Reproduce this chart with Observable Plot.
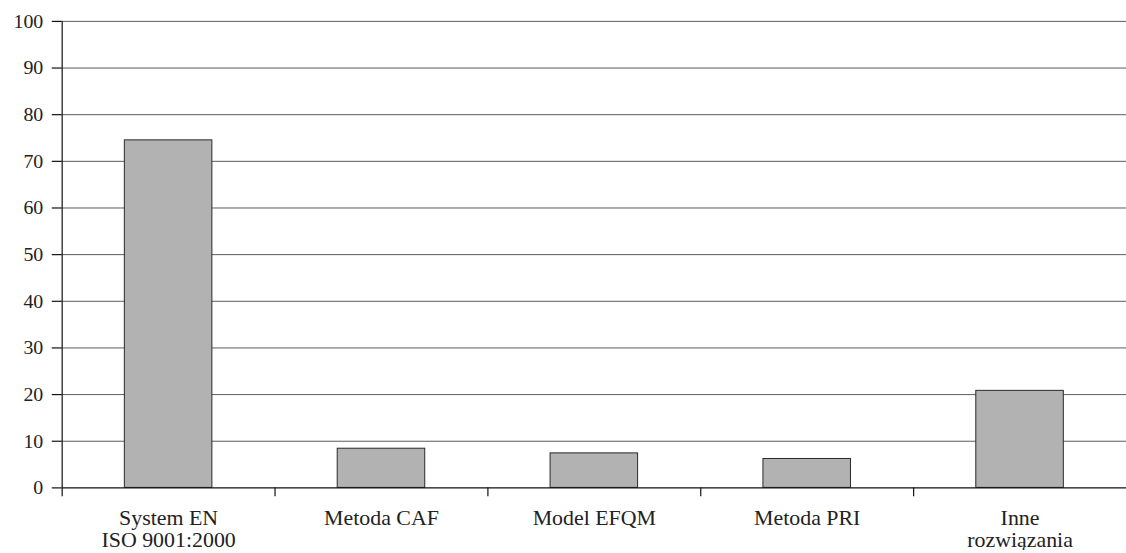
<!DOCTYPE html>
<html>
<head>
<meta charset="utf-8">
<script src="https://cdn.jsdelivr.net/npm/d3@7"></script>
<script src="https://cdn.jsdelivr.net/npm/@observablehq/plot@0.6"></script>
<style>
  html, body { margin: 0; padding: 0; background: #fff; overflow: hidden; }
  #chart { width: 1126px; height: 553px; overflow: hidden; }
  #chart svg, #chart svg text { font-family: "Liberation Serif", "DejaVu Serif", serif !important; }
</style>
</head>
<body>
<div id="chart"></div>
<script>
const categories = ["System EN\nISO 9001:2000", "Metoda CAF", "Model EFQM", "Metoda PRI", "Inne\nrozwiązania"];
const values = [74.5, 8.4, 7.4, 6.2, 20.8];
const yTicks = [0, 10, 20, 30, 40, 50, 60, 70, 80, 90, 100];

const data = categories.map((c, i) => ({category: c, value: values[i]}));

const W = 1132, H = 553;
const mL = 62, mR = 0, mT = 21, mB = 63;
const step = (W - mL - mR) / categories.length;
const frameH = H - mT - mB;

const chart = Plot.plot({
  width: W,
  height: H,
  marginLeft: mL,
  marginRight: mR,
  marginTop: mT,
  marginBottom: mB,
  style: {fontFamily: '"Liberation Serif", serif', fontSize: "20px", color: "#222", background: "#fff"},
  x: {domain: categories, paddingInner: 0.59, paddingOuter: 0.295, label: null},
  y: {domain: [0, 100], label: null},
  marks: [
    Plot.ruleY(yTicks.filter(t => t > 0), {stroke: "#5a5a5a", strokeWidth: 1}),
    Plot.barY(data, {x: "category", y: "value", fill: "#b2b2b2", stroke: "#2a2a2a", strokeWidth: 1}),
    Plot.ruleY([0], {stroke: "#111", strokeWidth: 1.2}),
    // left axis line
    Plot.tickX([categories[0]], {x: d => d, dx: -step / 2, stroke: "#111", strokeWidth: 1.2}),
    // x ticks at category boundaries
    Plot.tickX(categories, {x: d => d, dx: -step / 2, dy: 9, insetTop: frameH - 9, stroke: "#111", strokeWidth: 1.2}),
    Plot.axisY({ticks: yTicks, tickSize: 10, tickPadding: 9, fontSize: 20, stroke: "#111", strokeWidth: 1.2, label: null}),
    Plot.axisX({tickSize: 0, tickPadding: 22, fontSize: 22, lineHeight: 1.0, label: null})
  ]
});
document.getElementById("chart").appendChild(chart);
</script>
</body>
</html>
